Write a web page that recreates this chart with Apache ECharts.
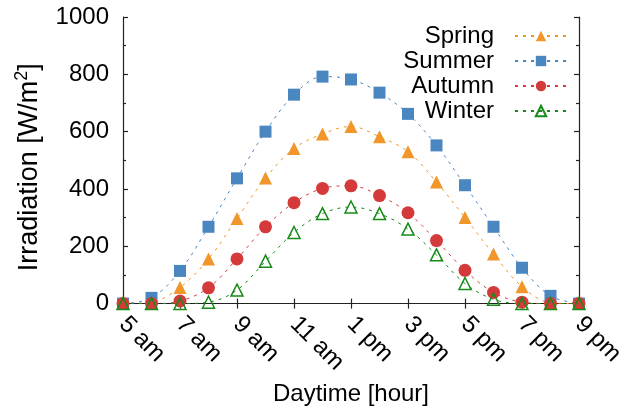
<!DOCTYPE html>
<html>
<head>
<meta charset="utf-8">
<script src="https://cdn.jsdelivr.net/npm/echarts@6/dist/echarts.min.js"></script>
<style>
html,body{margin:0;padding:0;background:#fff;}
#chart{width:635px;height:411px;}
</style>
</head>
<body>
<div id="chart"></div>
<script>
const hours = ['5 am','6 am','7 am','8 am','9 am','10 am','11 am','12 pm','1 pm','2 pm','3 pm','4 pm','5 pm','6 pm','7 pm','8 pm','9 pm'];
const spring = [0, 5, 56, 156, 297, 438, 541, 592, 618, 582, 530, 424, 300, 173, 59, 3, 0];
const summer = [0, 20, 114, 268, 437, 600, 729, 792, 782, 736, 662, 552, 413, 268, 125, 27, 0];
const autumn = [0, 0, 9, 55, 156, 268, 352, 402, 411, 377, 317, 220, 116, 39, 5, 0, 0];
const winter = [0, 0, 0, 5, 47, 148, 248, 314, 337, 314, 260, 170, 70, 15, 0, 0, 0];
const seriesNames = ['Spring','Summer','Autumn','Winter'];
const xTitle = 'Daytime [hour]';

const FONT = "'Liberation Sans', Arial, Helvetica, sans-serif";
const colors = {Spring:'#f0962a', Summer:'#4a86c0', Autumn:'#d43a3a', Winter:'#178a17'};
const axisLineStyle = {color:'#222', width:1.2};

function mkSeries(name, data, symbol, size, hollow) {
  const c = colors[name];
  return {
    name: name, type: 'line', data: data,
    smooth: 0.35,
    symbol: symbol, symbolSize: size,
    showAllSymbol: true,
    lineStyle: {color: c, width: 1, type: [3, 5]},
    itemStyle: hollow ? {color: 'rgba(255,255,255,0)', borderColor: c, borderWidth: 1.5}
                      : {color: c, borderWidth: 0},
    emphasis: {disabled: true},
    animation: false
  };
}

const chart = echarts.init(document.getElementById('chart'), null, {renderer: 'canvas'});
chart.setOption({
  backgroundColor: '#fff',
  animation: false,
  textStyle: {fontFamily: FONT},
  grid: {left: 123, right: 56, top: 17, bottom: 104, containLabel: false},
  legend: {
    orient: 'vertical',
    right: 62, top: 19,
    align: 'right',
    itemWidth: 52, itemHeight: 13,
    itemGap: 1,
    data: seriesNames,
    textStyle: {fontFamily: FONT, fontSize: 24, color: '#000', padding: [0, 16, 0, 0], lineHeight: 24},
    selectedMode: false
  },
  xAxis: [{
    type: 'category', data: hours, boundaryGap: false,
    name: xTitle, nameLocation: 'middle', nameGap: 76,
    nameTextStyle: {fontFamily: FONT, fontSize: 24, color: '#000'},
    axisLine: {show: true, lineStyle: axisLineStyle},
    axisTick: {show: true, inside: true, interval: 1, length: 5, lineStyle: axisLineStyle},
    axisLabel: {interval: 1, rotate: -45, margin: 17, fontFamily: FONT, fontSize: 24, color: '#000'},
    splitLine: {show: false}
  }, {
    type: 'category', data: hours, boundaryGap: false, position: 'top',
    axisLine: {show: true, lineStyle: axisLineStyle},
    axisTick: {show: true, inside: true, interval: 1, length: 5, lineStyle: axisLineStyle},
    axisLabel: {show: false},
    splitLine: {show: false}
  }],
  yAxis: [{
    type: 'value', min: 0, max: 1000, interval: 200,
    name: '{a|Irradiation [W/m}{s|2}{e|]}', nameLocation: 'middle', nameGap: 80, nameRotate: 90,
    nameTextStyle: {
      rich: {
        a: {fontFamily: FONT, fontSize: 27, color: '#000', verticalAlign: 'bottom'},
        s: {fontFamily: FONT, fontSize: 18, color: '#000', verticalAlign: 'top', padding: [0, 0, 12, 0]},
        e: {fontFamily: FONT, fontSize: 27, color: '#000', verticalAlign: 'bottom', padding: [0, 14, 0, 0]}
      }
    },
    axisLine: {show: true, lineStyle: axisLineStyle},
    axisTick: {show: true, inside: true, length: 5, lineStyle: axisLineStyle},
    minorTick: {show: true, splitNumber: 2, length: 3, lineStyle: axisLineStyle},
    axisLabel: {margin: 14, fontFamily: FONT, fontSize: 24, color: '#000', formatter: function (v) { return String(v); }},
    splitLine: {show: false}
  }, {
    type: 'value', min: 0, max: 1000, interval: 200, position: 'right',
    axisLine: {show: true, lineStyle: axisLineStyle},
    axisTick: {show: true, inside: true, length: 5, lineStyle: axisLineStyle},
    minorTick: {show: true, splitNumber: 2, length: 3, lineStyle: axisLineStyle},
    axisLabel: {show: false},
    splitLine: {show: false}
  }],
  series: [
    mkSeries('Spring', spring, 'triangle', 13, false),
    mkSeries('Summer', summer, 'rect', 12, false),
    mkSeries('Autumn', autumn, 'circle', 13, false),
    mkSeries('Winter', winter, 'triangle', 12, true)
  ]
});
</script>
</body>
</html>
